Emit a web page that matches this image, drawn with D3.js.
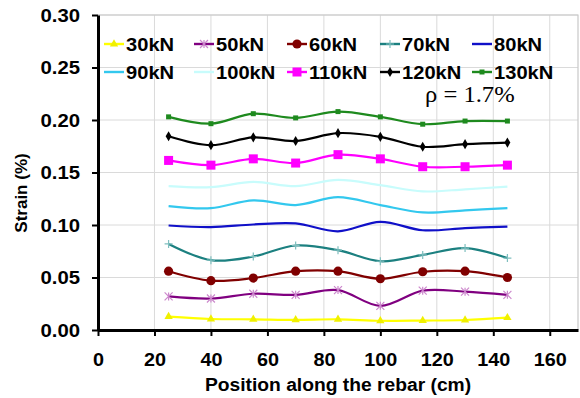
<!DOCTYPE html>
<html>
<head>
<meta charset="utf-8">
<script src="https://cdn.jsdelivr.net/npm/d3@7"></script>
<style>
  html, body { margin: 0; padding: 0; background: #fff; }
  svg { display: block; }
</style>
</head>
<body>
<svg id="chart" width="580" height="398"></svg>
<script>
// ---- data ----
const positions = [25, 40, 55, 70, 85, 100, 115, 130, 145];
const seriesNames = ["30kN", "50kN", "60kN", "70kN", "80kN", "90kN", "100kN", "110kN", "120kN", "130kN"];
const s30  = [0.0127, 0.0105, 0.0102, 0.0097, 0.0102, 0.0088, 0.0090, 0.0095, 0.0117];
const s50  = [0.0320, 0.0300, 0.0345, 0.0335, 0.0380, 0.0230, 0.0375, 0.0365, 0.0335];
const s60  = [0.0560, 0.0470, 0.0495, 0.0560, 0.0560, 0.0488, 0.0555, 0.0560, 0.0500];
const s70  = [0.0820, 0.0665, 0.0700, 0.0805, 0.0760, 0.0655, 0.0715, 0.0780, 0.0685];
const s80  = [0.0995, 0.0980, 0.1005, 0.1015, 0.0940, 0.1030, 0.0950, 0.0970, 0.0985];
const s90  = [0.1180, 0.1160, 0.1235, 0.1190, 0.1265, 0.1190, 0.1120, 0.1140, 0.1160];
const s100 = [0.1370, 0.1360, 0.1410, 0.1370, 0.1430, 0.1380, 0.1320, 0.1340, 0.1365];
const s110 = [0.1615, 0.1570, 0.1630, 0.1590, 0.1670, 0.1630, 0.1555, 0.1555, 0.1570];
const s120 = [0.1845, 0.1760, 0.1835, 0.1800, 0.1875, 0.1840, 0.1745, 0.1770, 0.1785];
const s130 = [0.2030, 0.1965, 0.2060, 0.2020, 0.2080, 0.2030, 0.1960, 0.1990, 0.1990];
const seriesValues = [s30, s50, s60, s70, s80, s90, s100, s110, s120, s130];
const xTicks = [0, 20, 40, 60, 80, 100, 120, 140, 160];
const yTicks = [0.00, 0.05, 0.10, 0.15, 0.20, 0.25, 0.30];
const xTitle = "Position along the rebar (cm)";
const yTitle = "Strain (%)";
const note = "\u03C1 = 1.7%";

// ---- styles ----
const colors = ["#FFFF00", "#800080", "#800000", "#1C8080", "#1010C8", "#33C8EE", "#C8FCFC", "#FF00FF", "#000000", "#1E8A1E"];
const markerColors = ["#F0F000", "#CC88CC", "#800000", "#7FBFBF", null, null, "#C8FCFC", "#FF00FF", "#000000", "#1E8A1E"];
const markerTypes = ["triangle", "star", "circle", "plus", null, null, null, "square", "diamond", "smallsquare"];
const SANS = "Liberation Sans, Arial, sans-serif";

const svg = d3.select("#chart");
const margin = { left: 98, right: 2, top: 15, bottom: 68 };
const W = 580, H = 398;
const x = d3.scaleLinear().domain([0, 170]).range([margin.left, W - margin.right]);
const y = d3.scaleLinear().domain([0, 0.30]).range([H - margin.bottom, margin.top]);

// gridlines
const grid = svg.append("g");
grid.selectAll("line.gx").data(xTicks.filter(d => d > 0)).enter().append("line")
  .attr("x1", d => x(d)).attr("x2", d => x(d))
  .attr("y1", y(0)).attr("y2", y(0.30))
  .attr("stroke", "#DADADA").attr("stroke-width", 1);
grid.selectAll("line.gy").data(yTicks.filter(d => d > 0)).enter().append("line")
  .attr("x1", x(0)).attr("x2", x(170))
  .attr("y1", d => y(d)).attr("y2", d => y(d))
  .attr("stroke", "#DADADA").attr("stroke-width", 1);
svg.append("path")
  .attr("d", `M${x(0)},${y(0.30)}H${x(170)}V${y(0)}`)
  .attr("fill", "none").attr("stroke", "#C8C8C8").attr("stroke-width", 1.2);

// lines
const line = d3.line()
  .x((d, i) => x(positions[i]))
  .y(d => y(d))
  .curve(d3.curveCatmullRom.alpha(0));

const lines = svg.append("g");
seriesValues.forEach((vals, k) => {
  lines.append("path")
    .attr("d", line(vals))
    .attr("fill", "none")
    .attr("stroke", colors[k])
    .attr("stroke-width", 2.2);
});

function drawMarker(g, type, cx, cy, color) {
  if (!type) return;
  if (type === "circle") {
    g.append("circle").attr("cx", cx).attr("cy", cy).attr("r", 4.6).attr("fill", color);
  } else if (type === "square") {
    g.append("rect").attr("x", cx - 4.5).attr("y", cy - 4.5).attr("width", 9).attr("height", 9).attr("fill", color);
  } else if (type === "smallsquare") {
    g.append("rect").attr("x", cx - 2.5).attr("y", cy - 2.5).attr("width", 5).attr("height", 5).attr("fill", color);
  } else if (type === "diamond") {
    g.append("path").attr("d", d3.symbol(d3.symbolDiamond, 30)()).attr("transform", `translate(${cx},${cy})`).attr("fill", color);
  } else if (type === "triangle") {
    g.append("path").attr("d", d3.symbol(d3.symbolTriangle, 30)()).attr("transform", `translate(${cx},${cy})`).attr("fill", color);
  } else if (type === "star") {
    const r = 4;
    g.append("path").attr("d", `M${cx - r},${cy - r}L${cx + r},${cy + r}M${cx - r},${cy + r}L${cx + r},${cy - r}M${cx},${cy - r}V${cy + r}`)
      .attr("stroke", color).attr("stroke-width", 1.2).attr("fill", "none");
  } else if (type === "plus") {
    const r = 4;
    g.append("path").attr("d", `M${cx - r},${cy}H${cx + r}M${cx},${cy - r}V${cy + r}`)
      .attr("stroke", color).attr("stroke-width", 1.2).attr("fill", "none");
  }
}

const markers = svg.append("g");
seriesValues.forEach((vals, k) => {
  vals.forEach((v, i) => drawMarker(markers, markerTypes[k], x(positions[i]), y(v), markerColors[k]));
});

// axes
const xAxis = svg.append("g").attr("transform", `translate(0,${y(0)})`)
  .call(d3.axisBottom(x).tickValues(xTicks).tickFormat(d3.format("d")).tickSize(6).tickSizeOuter(0));
const yAxis = svg.append("g").attr("transform", `translate(${x(0)},0)`)
  .call(d3.axisLeft(y).tickValues(yTicks).tickFormat(d3.format(".2f")).tickSize(6).tickSizeOuter(0));
[xAxis, yAxis].forEach(a => {
  a.select(".domain").attr("stroke", "#000").attr("stroke-width", 3);
  a.selectAll(".tick line").attr("stroke", "#000").attr("stroke-width", 2);
  a.selectAll(".tick text").attr("fill", "#000")
    .style("font-family", SANS)
    .style("font-weight", "bold").style("font-size", "18px");
});
xAxis.selectAll(".tick text").attr("dy", null).attr("x", 0).attr("y", 0)
  .attr("transform", "translate(0,36) scale(1.1,1)");
yAxis.selectAll(".tick text").attr("x", 0).attr("y", 0).attr("dy", "0.36em")
  .attr("transform", "translate(-18,0) scale(1.13,1)");

// axis titles
svg.append("text")
  .attr("transform", `translate(${(x(0) + x(170)) / 2 + 0},391) scale(1.07,1)`)
  .attr("text-anchor", "middle")
  .style("font-family", SANS)
  .style("font-weight", "bold").style("font-size", "18px")
  .text(xTitle);
svg.append("text")
  .attr("transform", `translate(27,193) rotate(-90)`)
  .attr("text-anchor", "middle")
  .style("font-family", SANS)
  .style("font-weight", "bold").style("font-size", "17px")
  .text(yTitle);

// legend
const colX = [126, 216, 309, 402, 494];
const rowY = [44, 72];
const legend = svg.append("g");
seriesNames.forEach((name, k) => {
  const cx = colX[k % 5], cy = rowY[Math.floor(k / 5)];
  legend.append("line").attr("x1", cx - 22).attr("x2", cx - 2).attr("y1", cy).attr("y2", cy)
    .attr("stroke", colors[k]).attr("stroke-width", 2.4);
  drawMarker(legend, markerTypes[k], cx - 12, cy, markerColors[k]);
  legend.append("text")
    .attr("transform", `translate(${cx},${cy}) scale(1.06,1)`)
    .attr("dy", "0.36em")
    .style("font-family", SANS)
    .style("font-weight", "bold").style("font-size", "19px")
    .attr("fill", "#000")
    .text(name);
});

// annotation
svg.append("text")
  .attr("transform", "translate(425,102) scale(1.07,1)")
  .style("font-family", "Liberation Serif, Times New Roman, serif")
  .style("font-size", "23px")
  .attr("fill", "#000")
  .text(note);
</script>
</body>
</html>
